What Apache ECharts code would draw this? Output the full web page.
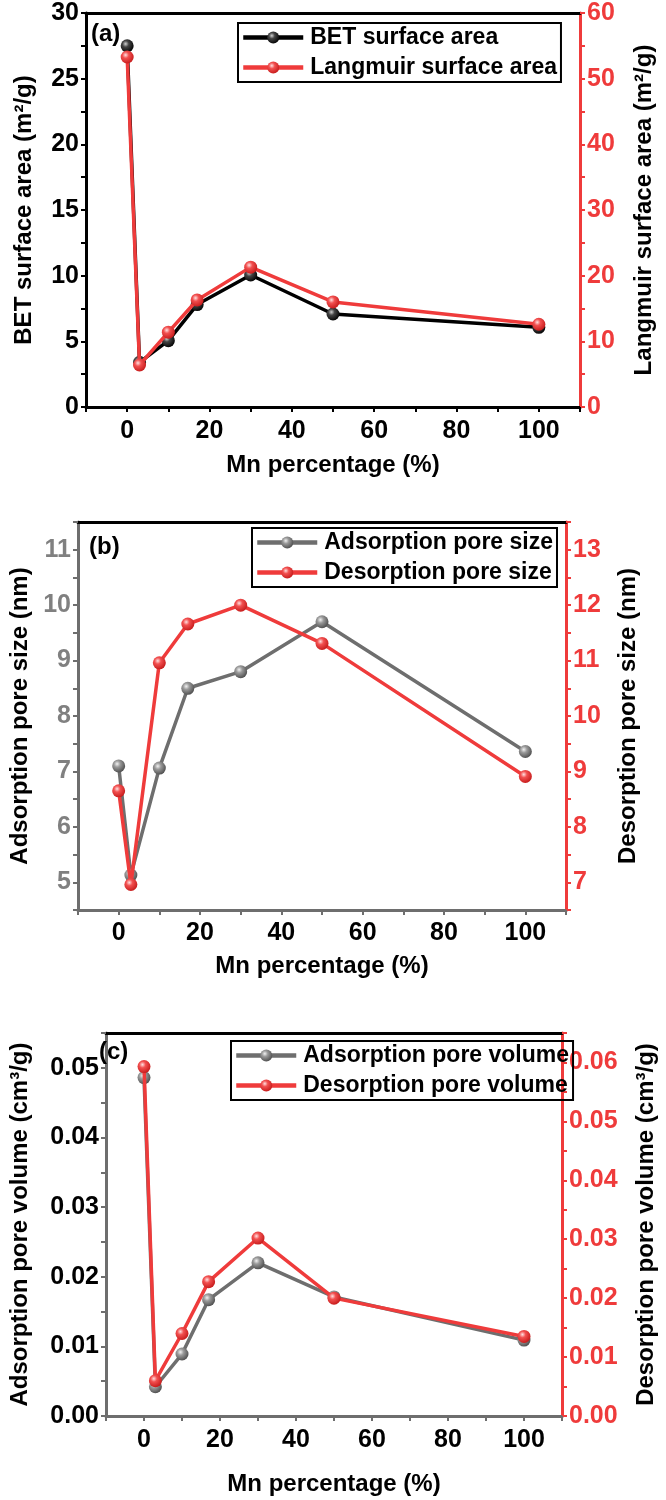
<!DOCTYPE html>
<html><head><meta charset="utf-8">
<script src="https://cdn.jsdelivr.net/npm/echarts@6/dist/echarts.min.js"></script>
<style>html,body{margin:0;padding:0;background:#fff}#c{width:666px;height:1500px}</style>
</head><body><div id="c"></div>
<script>
// ---- data ----
const mnPercent = [0, 3, 10, 17, 30, 50, 100];
const betArea = [27.5, 3.4, 5.05, 7.8, 10.05, 7.08, 6.07];
const langmuirArea = [53.3, 6.4, 11.4, 16.3, 21.3, 16.0, 12.6];
const adsPoreSize = [7.10, 5.13, 7.06, 8.50, 8.80, 9.70, 7.36];
const desPoreSize = [8.65, 6.96, 10.96, 11.66, 12.0, 11.31, 8.91];
const adsPoreVol = [0.0486, 0.0042, 0.0089, 0.0167, 0.0220, 0.0171, 0.0109];
const desPoreVol = [0.0593, 0.0060, 0.0140, 0.0228, 0.0302, 0.0200, 0.0135];
const xTickLabels = [0, 20, 40, 60, 80, 100];
const seriesNames = {
  a: ['BET surface area', 'Langmuir surface area'],
  b: ['Adsorption pore size', 'Desorption pore size'],
  c: ['Adsorption pore volume', 'Desorption pore volume']
};
const panelLabels = ['(a)', '(b)', '(c)'];

// ---- style ----
const FONT = "'Liberation Sans', Arial, sans-serif";
const RED = '#EF3B3B', GRAY = '#6E6E6E', BLACK = '#000000', GRAYTXT = '#808080';
function sphere(c0, c1, c2) {
  return {type: 'radial', x: 0.38, y: 0.35, r: 0.7,
    colorStops: [{offset: 0, color: c0}, {offset: 0.35, color: c1}, {offset: 1, color: c2}]};
}
const SPH = {
  black: sphere('#d0d0d0', '#444', '#000'),
  red: sphere('#ffe0e0', '#f25050', '#c41818'),
  gray: sphere('#f2f2f2', '#9a9a9a', '#4a4a4a')
};
const grids = [
  {left: 86, top: 13, width: 494, height: 394},
  {left: 78, top: 522, width: 488, height: 388},
  {left: 97, top: 1033, width: 481, height: 383}
];
const xNameGap = [46, 44, 56];
const xLabelMargin = [12, 11, 12];

function pairs(arr) { return mnPercent.map((x, i) => [x, arr[i]]); }

const xAxis = [], yAxis = [], series = [], legend = [], graphic = [];
const bottomColors = [BLACK, GRAY, GRAY];
grids.forEach((g, i) => {
  xAxis.push({
    gridIndex: i, type: 'value', min: -10, max: 110, interval: 10, position: 'bottom',
    name: 'Mn percentage (%)', nameLocation: 'middle', nameGap: xNameGap[i],
    nameTextStyle: {fontFamily: FONT, fontWeight: 'bold', fontSize: 24, color: BLACK},
    axisLine: {onZero: false, lineStyle: {color: bottomColors[i], width: 3}},
    axisTick: {length: 5, lineStyle: {color: bottomColors[i], width: 2}},
    axisLabel: {margin: xLabelMargin[i], fontFamily: FONT, fontWeight: 'bold', fontSize: 25, color: BLACK,
      formatter: v => xTickLabels.includes(v) ? String(v) : ''},
    splitLine: {show: false}
  });
  xAxis.push({
    gridIndex: i, type: 'value', min: -10, max: 110, position: 'top',
    axisLine: {show: true, onZero: false, lineStyle: {color: BLACK, width: 3}},
    axisTick: {show: false}, axisLabel: {show: false}, splitLine: {show: false}
  });
});

function yAx(gi, pos, min, max, interval, color, labelColor, name, gap, fmt) {
  return {
    gridIndex: gi, type: 'value', position: pos, min: min, max: max, interval: interval,
    name: name, nameLocation: 'middle', nameRotate: 90, nameGap: gap,
    nameTextStyle: {fontFamily: FONT, fontWeight: 'bold', fontSize: 24, color: BLACK},
    axisLine: {show: true, onZero: false, lineStyle: {color: color, width: 3}},
    axisTick: {show: true, length: 5, lineStyle: {color: color, width: 2}},
    axisLabel: {margin: 7, fontFamily: FONT, fontWeight: 'bold', fontSize: 25, color: labelColor,
      formatter: fmt},
    splitLine: {show: false}
  };
}
function stepFmt(step, dec) {
  return v => {
    const k = Math.round(v / step * 1e6) / 1e6;
    return Number.isInteger(k) ? v.toFixed(dec) : '';
  };
}
yAxis.push(yAx(0, 'left', 0, 30, 2.5, BLACK, BLACK, 'BET surface area (m²/g)', 50, stepFmt(5, 0)));
yAxis.push(yAx(0, 'right', 0, 60, 5, RED, RED, 'Langmuir surface area (m²/g)', 52, stepFmt(10, 0)));
yAxis.push(yAx(1, 'left', 4.5, 11.5, 0.5, GRAY, GRAYTXT, 'Adsorption pore size (nm)', 46, stepFmt(1, 0)));
yAxis.push(yAx(1, 'right', 6.5, 13.5, 0.5, RED, RED, 'Desorption pore size (nm)', 50, stepFmt(1, 0)));
yAxis.push(yAx(2, 'left', 0, 0.055, 0.005, GRAY, BLACK, 'Adsorption pore volume (cm³/g)', 74, stepFmt(0.01, 2)));
yAxis.push(yAx(2, 'right', 0, 0.065, 0.005, RED, RED, 'Desorption pore volume (cm³/g)', 72, stepFmt(0.01, 2)));

function lineSeries(name, gi, yi, data, lineColor, sph, z) {
  return {
    type: 'line', name: name, xAxisIndex: gi * 2, yAxisIndex: yi, data: pairs(data),
    symbol: 'circle', symbolSize: 13, showSymbol: true, z: z,
    lineStyle: {color: lineColor, width: 3.5},
    itemStyle: {color: sph, borderWidth: 0},
    emphasis: {disabled: true}
  };
}
series.push(lineSeries(seriesNames.a[0], 0, 0, betArea, BLACK, SPH.black, 2));
series.push(lineSeries(seriesNames.a[1], 0, 1, langmuirArea, RED, SPH.red, 3));
series.push(lineSeries(seriesNames.b[0], 1, 2, adsPoreSize, GRAY, SPH.gray, 2));
series.push(lineSeries(seriesNames.b[1], 1, 3, desPoreSize, RED, SPH.red, 3));
series.push(lineSeries(seriesNames.c[0], 2, 4, adsPoreVol, GRAY, SPH.gray, 2));
series.push(lineSeries(seriesNames.c[1], 2, 5, desPoreVol, RED, SPH.red, 3));

const legendPos = [{left: 238, top: 23}, {left: 252, top: 528}, {left: 231, top: 1041}];
['a', 'b', 'c'].forEach((k, i) => {
  legend.push(Object.assign({
    data: seriesNames[k], orient: 'vertical', itemWidth: 60, itemHeight: 15, itemGap: 7,
    padding: [3, 4, 3, 3], borderColor: BLACK, borderWidth: 2, selectedMode: false,
    lineStyle: {width: 4.5},
    textStyle: {fontFamily: FONT, fontWeight: 'bold', fontSize: 23, color: BLACK, padding: [0, 0, 0, 2]}
  }, legendPos[i]));
});

const labelPos = [{left: 91, top: 22}, {left: 89, top: 535}, {left: 99, top: 1040}];
panelLabels.forEach((t, i) => {
  graphic.push({type: 'text', left: labelPos[i].left, top: labelPos[i].top, z: 100,
    style: {text: t, font: "bold 24px " + FONT, fill: BLACK}});
});

const chart = echarts.init(document.getElementById('c'), null, {renderer: 'canvas'});
chart.setOption({
  animation: false, backgroundColor: '#fff',
  grid: grids.map(g => Object.assign({containLabel: false}, g)),
  xAxis: xAxis, yAxis: yAxis, series: series, legend: legend, graphic: graphic
});
</script></body></html>
